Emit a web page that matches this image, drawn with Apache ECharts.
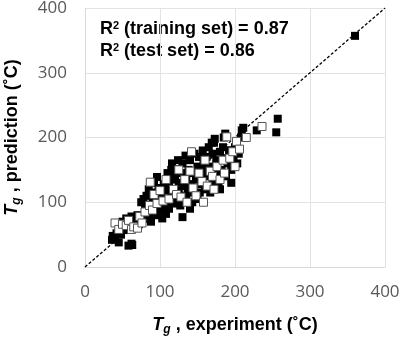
<!DOCTYPE html>
<html>
<head>
<meta charset="utf-8">
<script src="https://cdn.jsdelivr.net/npm/echarts@6/dist/echarts.min.js"></script>
<style>
  html, body { margin: 0; padding: 0; background: #fff; }
  #chart { width: 401px; height: 338px; }
</style>
</head>
<body>
<div id="chart"></div>
<script>
  // 坐标刻度
  const xTicks = [0, 100, 200, 300, 400];
  const yTicks = [0, 100, 200, 300, 400];
  // 对角参考线 y = x
  const diagLine = [[0, 0], [400, 400]];
  // 训练集 (实心)
  const trainSet = [
    [36,42],[37,48],[40,45],[42,52],[45,55],[48,50],[50,60],[52,57],[55,62],[58,58],
    [60,65],[62,60],[65,68],[68,63],[70,72],[72,66],[75,70],[78,74],[46,62],[50,70],
    [55,75],[58,68],[62,78],[66,74],[70,80],
    [45,38],[58,33],[62,36],[63,34],
    [75,100],[78,105],[80,95],[82,110],[85,88],[85,120],[88,78],[90,100],[90,115],[92,130],
    [95,85],[95,108],[98,122],[100,95],[96,139],[102,110],[105,88],[105,128],[108,118],[110,100],
    [110,145],[80,82],[84,75],[88,70],[93,90],[97,80],[103,75],[108,82],[112,90],
    [130,77],
    [112,125],[115,110],[115,150],[118,135],[120,98],[120,140],[121,151],[125,118],[125,130],[128,145],
    [130,100],[130,160],[132,125],[135,138],[135,110],[138,150],[140,90],[140,165],[142,128],[145,115],
    [145,145],[148,135],[150,155],[150,105],[152,170],[155,128],[155,140],[158,162],[160,120],[160,150],
    [118,102],[127,95],[137,120],[143,100],[153,115],[116,160],[124,165],[134,172],[146,175],[157,180],
    [162,170],[165,140],[165,185],[168,155],[170,128],[170,175],[172,192],[175,145],[175,165],[178,130],
    [180,178],[182,150],[185,168],[185,200],[188,140],[190,160],[192,180],[195,150],[198,170],[200,185],
    [203,160],[205,175],[208,200],[211,215],[209,211],[187,206],[173,198],[180,120],[195,130],[167,115],
    [169,192],[184,185],[193,180],[202,179],
    [229,211],[255,208],[257,229],
    [360,357]
  ];
  // 测试集 (空心)
  const testSet = [
    [40,68],[45,58],[50,66],[55,64],[58,72],[62,58],[65,62],[70,60],[73,78],[76,68],
    [80,85],[86,95],[87,131],[90,88],[92,112],[96,98],[100,118],[104,102],[108,135],[112,105],
    [118,120],[122,112],[125,150],[128,108],[133,135],[136,100],[140,148],[144,122],[148,110],[152,145],
    [156,132],[158,100],[160,165],[163,125],[167,148],[170,140],[172,120],[176,155],[180,135],[184,165],
    [186,145],[189,201],[193,168],[197,178],[200,155],[202,194],[206,182],[236,217],[215,200],[142,178]
  ];
  const r2Lines = ['R² (training set) = 0.87', 'R² (test set) = 0.86'];

  const chart = echarts.init(document.getElementById('chart'));
  const labelFont = 'Open Sans';
  const nameFont = 'Liberation Sans';
  const nameRich = {
    t: { fontFamily: nameFont, fontSize: 18, fontWeight: 'bold', fontStyle: 'italic', color: '#000' },
    g: { fontFamily: nameFont, fontSize: 12, fontWeight: 'bold', fontStyle: 'italic', color: '#000', padding: [10, 0, 0, 0] },
    n: { fontFamily: nameFont, fontSize: 18, fontWeight: 'bold', color: '#000' }
  };
  const r2Rich = {
    n: { fontFamily: nameFont, fontSize: 18, fontWeight: 'bold', color: '#000' },
    s: { fontFamily: nameFont, fontSize: 11, fontWeight: 'bold', color: '#000', padding: [0, 0, 8, 0] }
  };

  const option = {
    backgroundColor: '#fff',
    animation: false,
    grid: { left: 85, right: 16, top: 8, bottom: 71, outerBoundsMode: 'none' },
    xAxis: {
      type: 'value',
      min: xTicks[0], max: xTicks[xTicks.length - 1], interval: 100,
      name: '{t|T}{g|g}{n| , experiment (˚C)}',
      nameLocation: 'middle',
      nameGap: 47,
      nameTextStyle: { rich: nameRich },
      axisLine: { show: true, lineStyle: { color: '#d9d9d9' } },
      axisTick: { show: false },
      axisLabel: { margin: 17, fontFamily: labelFont, fontSize: 17, color: '#595959' },
      splitLine: { show: true, lineStyle: { color: '#e3e3e3', width: 1 } }
    },
    yAxis: {
      type: 'value',
      min: yTicks[0], max: yTicks[yTicks.length - 1], interval: 100,
      name: '{t|T}{g|g}{n| , prediction (˚C)}',
      nameLocation: 'middle',
      nameGap: 62,
      nameRotate: 90,
      nameTextStyle: { rich: nameRich },
      axisLine: { show: true, lineStyle: { color: '#d9d9d9' } },
      axisTick: { show: false },
      axisLabel: { margin: 18, fontFamily: labelFont, fontSize: 17, color: '#595959' },
      splitLine: { show: true, lineStyle: { color: '#e3e3e3', width: 1 } }
    },
    graphic: [
      {
        type: 'text', left: 100, top: 20,
        style: { text: '{n|R}{s|2}{n|' + r2Lines[0].slice(2) + '}', rich: r2Rich }
      },
      {
        type: 'text', left: 100, top: 42,
        style: { text: '{n|R}{s|2}{n|' + r2Lines[1].slice(2) + '}', rich: r2Rich }
      }
    ],
    series: [
      {
        type: 'line',
        data: diagLine,
        symbol: 'none',
        silent: true,
        lineStyle: { color: '#000', width: 1.3, type: [3, 2] },
        z: 1
      },
      {
        name: 'training',
        type: 'scatter',
        data: trainSet,
        symbol: 'rect',
        symbolSize: 8,
        itemStyle: { color: '#000', opacity: 1 },
        z: 2
      },
      {
        name: 'test',
        type: 'scatter',
        data: testSet,
        symbol: 'rect',
        symbolSize: 8,
        itemStyle: { color: '#fff', borderColor: '#555', borderWidth: 1, opacity: 1 },
        z: 3
      }
    ]
  };
  chart.setOption(option);
</script>
</body>
</html>
